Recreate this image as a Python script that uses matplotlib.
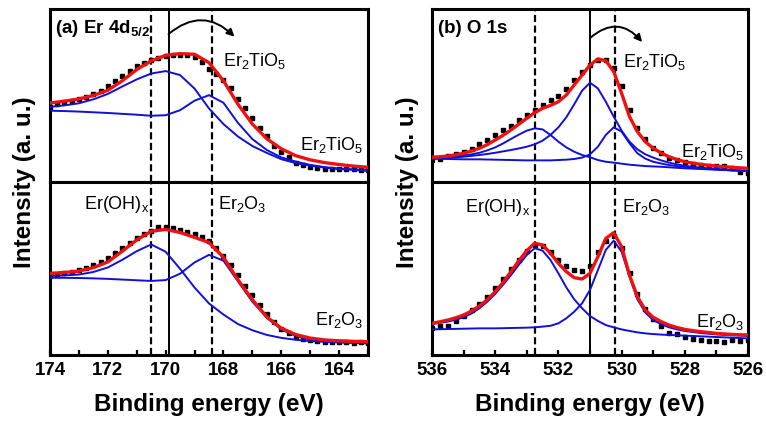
import numpy as np
import matplotlib
matplotlib.use("Agg")
from matplotlib import pyplot as plt
from matplotlib.ticker import MultipleLocator

plt.rcParams['font.family'] = ['Liberation Sans', 'DejaVu Sans']
plt.rcParams['font.weight'] = 'bold'
plt.rcParams['mathtext.default'] = 'regular'

### ------------------------------- DATA ------------------------------- ###
# (a) Er 4d5/2 : fit curves every 0.5 eV, measured points every 0.25 eV
er_fit_e = np.arange(174.0, 162.9, -0.5)
er_dat_e = np.arange(174.0, 162.9, -0.25)

# top : Er2TiO5
er_ti_fit = [45.7, 46.7, 48.0, 50.0, 53.0, 58.5, 65.0, 70.0, 73.2, 74.2, 73.8, 69.0,
             58.5, 45.0, 33.5, 25.0, 19.2, 15.2, 12.8, 11.2, 10.1, 9.2, 8.5]
er_ti_p1 = [43.4, 44.3, 45.5, 47.8, 50.9, 55.2, 59.3, 62.7, 64.1, 61.8, 54.0, 42.5,
            33.5, 26.3, 20.8, 16.8, 13.2, 10.9, 9.5, 8.3, 7.5, 7.0, 6.5]
er_ti_p2 = [41.2, 41.0, 40.7, 40.3, 39.9, 39.4, 38.9, 38.3, 38.6, 41.5, 47.0, 50.2,
            45.8, 34.2, 24.8, 18.5, 14.2, 11.8, 9.9, 8.6, 7.8, 7.3, 6.9]
er_ti_dat = [43.5, 44.8, 46.0, 47.0, 48.2, 49.3, 50.8, 52.6, 55.5, 58.5, 61.5, 64.0,
             66.8, 68.9, 70.6, 71.9, 73.0, 73.6, 73.5, 73.2, 72.4, 69.5, 65.5, 62.5,
             58.8, 54.5, 48.0, 42.5, 36.8, 31.5, 26.6, 21.0, 17.5, 14.5, 11.0, 9.6,
             8.8, 8.2, 7.8, 7.6, 7.6, 7.8, 7.5, 7.2, 6.8]

# bottom : Er2O3
er_ox_fit = [47.2, 47.7, 48.5, 50.5, 53.8, 60.0, 66.5, 71.5, 72.6, 70.8, 68.0, 65.0,
             56.5, 43.5, 32.0, 22.0, 15.5, 11.8, 9.8, 8.7, 8.2, 7.9, 7.7]
er_ox_p1 = [45.7, 46.0, 46.5, 48.0, 50.6, 55.0, 60.0, 63.9, 59.7, 49.8, 39.0, 29.8,
            23.4, 17.9, 14.3, 11.6, 9.9, 8.8, 8.1, 7.6, 7.3, 7.0, 6.8]
er_ox_p2 = [44.7, 44.6, 44.5, 44.3, 44.0, 43.6, 43.2, 42.8, 43.3, 47.0, 53.5, 57.9,
            54.5, 42.6, 30.8, 21.5, 14.8, 11.0, 9.0, 8.0, 7.4, 7.1, 6.8]
er_ox_dat = [45.8, 46.5, 47.3, 48.2, 49.0, 50.3, 51.8, 53.8, 56.0, 59.0, 62.0, 64.8,
             67.5, 69.8, 71.8, 73.8, 74.0, 73.6, 72.5, 71.0, 69.8, 68.3, 65.8, 62.0,
             57.5, 52.0, 46.0, 40.0, 34.5, 29.0, 23.5, 19.0, 15.2, 12.5, 10.6, 9.4,
             8.6, 8.2, 7.8, 7.6, 7.5, 7.4, 7.0, 7.3, 6.9]

# (b) O 1s : everything every 0.25 eV
o_e = np.arange(536.0, 525.9, -0.25)

# top : Er2TiO5
o_ti_fit = [14.3, 14.6, 15.0, 15.7, 16.6, 17.9, 19.5, 21.6, 24.3, 27.0, 30.1, 33.5,
            36.8, 40.1, 42.6, 44.3, 46.4, 50.3, 56.1, 61.8, 67.6, 71.1, 70.1, 63.8,
            51.3, 37.8, 29.1, 23.3, 19.5, 16.8, 14.6, 13.0, 11.7, 10.9, 10.2, 9.7,
            9.2, 8.8, 8.5, 8.2, 7.9]
o_ti_p1 = [13.7, 14.0, 14.3, 14.7, 15.2, 16.0, 16.9, 18.3, 20.0, 22.3, 24.9, 27.4,
           29.7, 31.0, 30.4, 27.2, 23.3, 20.0, 17.5, 15.6, 14.3, 12.7, 11.7, 11.2,
           10.6, 10.0, 9.6, 9.2, 9.0, 8.8, 8.5, 8.2, 7.9, 7.7, 7.5, 7.3,
           7.1, 6.9, 6.7, 6.6, 6.4]
o_ti_p2 = [13.5, 13.7, 13.9, 14.2, 14.6, 15.1, 15.6, 16.2, 16.9, 17.7, 18.5, 19.4,
           20.4, 21.8, 23.9, 27.2, 31.6, 37.4, 44.9, 52.8, 57.4, 54.1, 46.4, 37.8,
           29.7, 23.3, 18.9, 16.0, 14.1, 12.5, 11.2, 10.2, 9.4, 8.8, 8.3, 7.9,
           7.5, 7.2, 6.9, 6.6, 6.4]
o_ti_p3 = [13.5, 13.4, 13.3, 13.2, 13.1, 13.1, 13.1, 13.0, 12.9, 12.8, 12.7, 12.6,
           12.5, 12.5, 12.5, 12.5, 12.7, 12.9, 13.3, 14.1, 16.0, 20.4, 27.2, 31.6,
           29.1, 22.4, 16.6, 13.5, 11.7, 10.7, 9.8, 9.2, 8.7, 8.3, 7.9, 7.6,
           7.3, 7.0, 6.7, 6.5, 6.4]
o_ti_dat = [12.5, 13.5, 14.8, 16.0, 17.2, 19.2, 21.8, 24.5, 27.0, 29.8, 32.5, 35.8,
            39.0, 41.6, 44.5, 47.2, 50.0, 54.0, 58.8, 63.5, 67.8, 70.5, 70.8, 66.0,
            55.5, 41.5, 31.5, 25.0, 19.8, 16.5, 14.0, 12.5, 11.5, 10.4, 9.8, 9.4,
            9.4, 9.5, 8.0, 6.0, 5.2]

# bottom : Er2O3
o_ox_fit = [18.3, 19.2, 20.2, 21.5, 23.1, 25.4, 28.3, 32.0, 36.6, 42.0, 48.2, 54.5,
            60.3, 64.6, 63.6, 58.8, 53.0, 48.2, 44.7, 43.9, 47.2, 56.8, 67.4, 70.7,
            62.6, 46.2, 33.7, 26.0, 21.8, 19.3, 17.3, 15.9, 14.8, 14.1, 13.5, 13.0,
            12.5, 12.2, 11.9, 11.7, 11.6]
o_ox_p1 = [17.9, 18.6, 19.3, 20.4, 21.8, 24.0, 27.0, 30.8, 35.3, 40.6, 46.2, 52.2,
           57.8, 61.7, 60.3, 54.9, 47.2, 39.1, 32.2, 27.0, 22.5, 19.7, 17.3, 16.0,
           14.8, 13.9, 13.1, 12.5, 12.1, 11.8, 11.6, 11.4, 11.2, 11.0, 10.8, 10.6,
           10.4, 10.2, 10.0, 9.8, 9.6]
o_ox_p2 = [14.8, 14.9, 15.0, 15.1, 15.2, 15.3, 15.4, 15.4, 15.4, 15.5, 15.6, 15.7,
           15.8, 16.0, 16.4, 16.9, 18.3, 21.2, 25.0, 29.9, 37.6, 49.1, 60.7, 66.1,
           59.7, 45.3, 32.2, 24.5, 20.2, 17.8, 16.0, 14.8, 13.9, 13.3, 12.7, 12.3,
           11.9, 11.6, 11.4, 11.2, 11.0]
o_ox_dat = [15.5, 16.5, 17.0, 19.5, 22.8, 25.8, 29.5, 33.5, 38.5, 43.8, 49.5, 55.2,
            60.0, 63.5, 62.8, 59.5, 55.0, 51.5, 49.0, 48.5, 51.5, 59.5, 66.0, 68.5,
            62.0, 47.5, 35.0, 26.5, 21.0, 16.5, 13.0, 12.0, 10.5, 9.5, 8.5, 8.0,
            8.3, 7.8, 8.4, 8.0, 8.6]

### ------------------------------- FIGURE ------------------------------- ###
fig = plt.figure(figsize=(7.66, 4.24), dpi=100)

W, H = 766.0, 424.0
def box(l, r, t, b):
    return [l / W, 1 - b / H, (r - l) / W, (b - t) / H]

ax_a1 = fig.add_axes(box(50, 368, 9, 182))
ax_a2 = fig.add_axes(box(50, 368, 182, 355))
ax_b1 = fig.add_axes(box(432, 748, 9, 182))
ax_b2 = fig.add_axes(box(432, 748, 182, 355))

def draw(ax, ed, dat, ef, fit, peaks):
    ax.plot(ed, dat, 's', color='black', ms=2.6, zorder=2)
    for p in peaks:
        ax.plot(ef, p, '-', color='#1010d8', lw=1.4, zorder=3)
    ax.plot(ef, fit, '-', color='#f01010', lw=2.4, zorder=4)

draw(ax_a1, er_dat_e, er_ti_dat, er_fit_e, er_ti_fit, [er_ti_p1, er_ti_p2])
draw(ax_a2, er_dat_e, er_ox_dat, er_fit_e, er_ox_fit, [er_ox_p1, er_ox_p2])
draw(ax_b1, o_e, o_ti_dat, o_e, o_ti_fit, [o_ti_p1, o_ti_p2, o_ti_p3])
draw(ax_b2, o_e, o_ox_dat, o_e, o_ox_fit, [o_ox_p1, o_ox_p2])

for axs, xl, dashes, solid in [((ax_a1, ax_a2), (174, 163), (170.5, 168.4), 169.9),
                               ((ax_b1, ax_b2), (536, 526), (532.75, 530.2), 531.0)]:
    for ax in axs:
        ax.set_xlim(xl)
        ax.set_ylim(0, 100)
        for d in dashes:
            ax.axvline(d, color='black', lw=1.6, ls=(0, (3.2, 1.6)), zorder=1)
        ax.axvline(solid, color='black', lw=1.4, zorder=1)
        for s in ax.spines.values():
            s.set_linewidth(2.2)
        ax.set_yticks([])
        ax.xaxis.set_major_locator(MultipleLocator(2))
        ax.xaxis.set_minor_locator(MultipleLocator(1))
        ax.tick_params(axis='x', which='both', direction='in', length=3.5, width=1.6,
                       top=False, labelsize=13.5, pad=5)
    axs[0].tick_params(axis='x', which='both', bottom=False, labelbottom=False)

# panel titles
ax_a1.text(0.016, 0.86, '(a) Er 4d$_{5/2}$', transform=ax_a1.transAxes,
           fontsize=13.5, fontweight='bold', va='baseline')
ax_b1.text(0.018, 0.86, '(b) O 1s', transform=ax_b1.transAxes,
           fontsize=13.5, fontweight='bold', va='baseline')

# phase labels
lab = dict(fontsize=13, fontweight='normal', va='baseline')
ax_a1.text(168.0, 0.671, 'Er$_2$TiO$_5$', transform=ax_a1.get_xaxis_transform(), **lab)
ax_a1.text(0.984, 0.185, 'Er$_2$TiO$_5$', transform=ax_a1.transAxes, ha='right', **lab)
ax_a2.text(170.57, 0.844, 'Er(OH)$_x$', transform=ax_a2.get_xaxis_transform(), ha='right', **lab)
ax_a2.text(168.19, 0.844, 'Er$_2$O$_3$', transform=ax_a2.get_xaxis_transform(), **lab)
ax_a2.text(0.984, 0.173, 'Er$_2$O$_3$', transform=ax_a2.transAxes, ha='right', **lab)

ax_b1.text(529.95, 0.667, 'Er$_2$TiO$_5$', transform=ax_b1.get_xaxis_transform(), **lab)
ax_b1.text(0.99, 0.146, 'Er$_2$TiO$_5$', transform=ax_b1.transAxes, ha='right', **lab)
ax_b2.text(532.9, 0.828, 'Er(OH)$_x$', transform=ax_b2.get_xaxis_transform(), ha='right', **lab)
ax_b2.text(530.0, 0.828, 'Er$_2$O$_3$', transform=ax_b2.get_xaxis_transform(), **lab)
ax_b2.text(0.99, 0.164, 'Er$_2$O$_3$', transform=ax_b2.transAxes, ha='right', **lab)

# curved shift arrows
ax_a1.annotate('', xy=(167.62, 0.84), xytext=(169.9, 0.855),
               xycoords=('data', 'axes fraction'), textcoords=('data', 'axes fraction'),
               arrowprops=dict(arrowstyle='-|>', color='black', lw=1.4, mutation_scale=11,
                               connectionstyle='arc3,rad=-0.45', shrinkA=0, shrinkB=0))
ax_b1.annotate('', xy=(529.35, 0.809), xytext=(531.0, 0.832),
               xycoords=('data', 'axes fraction'), textcoords=('data', 'axes fraction'),
               arrowprops=dict(arrowstyle='-|>', color='black', lw=1.4, mutation_scale=11,
                               connectionstyle='arc3,rad=-0.5', shrinkA=0, shrinkB=0))

# axis labels
for xc, yc in [(209 / W, 431 / W), (590 / W, 408 / W)]:
    pass
fig.text(209 / W, 1 - 404 / H, 'Binding energy (eV)', ha='center', va='center',
         fontsize=17.5, fontweight='bold')
fig.text(590 / W, 1 - 404 / H, 'Binding energy (eV)', ha='center', va='center',
         fontsize=17.5, fontweight='bold')
fig.text(25 / W, 1 - 182 / H, 'Intensity (a. u.)', ha='center', va='center',
         rotation=90, fontsize=17.5, fontweight='bold')
fig.text(407 / W, 1 - 182 / H, 'Intensity (a. u.)', ha='center', va='center',
         rotation=90, fontsize=17.5, fontweight='bold')

fig.savefig('out.png', dpi=100)
